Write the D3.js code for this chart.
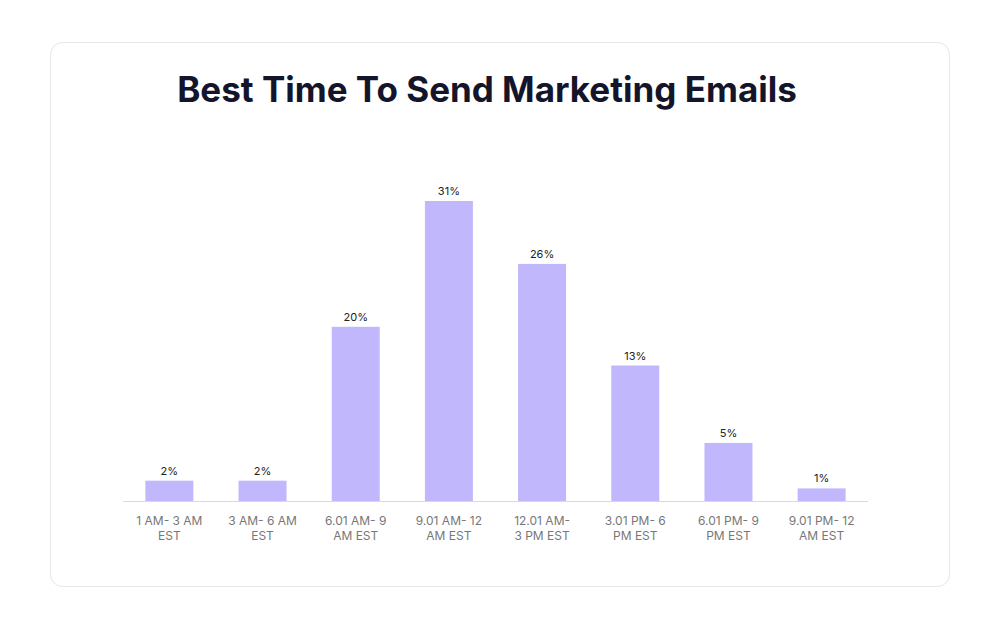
<!DOCTYPE html><html><head><meta charset="utf-8">
<script src="https://cdn.jsdelivr.net/npm/d3@7"></script>
<style>body{margin:0;background:#fff;font-family:Inter,sans-serif}</style></head><body>
<svg id="c" width="1000" height="630"></svg>
<script>
const categories=[["1 AM- 3 AM","EST"],["3 AM- 6 AM","EST"],["6.01 AM- 9","AM EST"],["9.01 AM- 12","AM EST"],["12.01 AM-","3 PM EST"],["3.01 PM- 6","PM EST"],["6.01 PM- 9","PM EST"],["9.01 PM- 12","AM EST"]];
const values=[2.1,2.1,18,31,24.5,14,6,1.3];
const valueLabels=["2%","2%","20%","31%","26%","13%","5%","1%"];
const svg=d3.select("#c");
svg.append("rect").attr("x",50.5).attr("y",42.5).attr("width",899).attr("height",544).attr("rx",12).attr("fill","#fff").attr("stroke","#e6e6ea");
svg.append("text").attr("x",487).attr("y",102).attr("text-anchor","middle").attr("font-size",35).attr("font-weight",700).attr("fill","#14152b").text("Best Time To Send Marketing Emails");
const x=d3.scaleBand().domain(d3.range(categories.length)).range([123,868]).paddingInner(0.485).paddingOuter(0.24);
const y=d3.scaleLinear().domain([0,31]).range([501,201]);
svg.append("line").attr("x1",123).attr("x2",868).attr("y1",501.5).attr("y2",501.5).attr("stroke","#d9d9e3");
const g=svg.selectAll("g.b").data(values).enter().append("g");
g.append("rect").attr("x",(d,i)=>x(i)).attr("width",x.bandwidth()).attr("y",d=>y(d)).attr("height",d=>501-y(d)).attr("fill","#c0b7fd");
g.append("text").attr("x",(d,i)=>x(i)+x.bandwidth()/2).attr("y",d=>y(d)-6).attr("text-anchor","middle").attr("font-size",11).attr("fill","#222").text((d,i)=>valueLabels[i]);
categories.forEach((c,i)=>{c.forEach((t,j)=>svg.append("text").attr("x",x(i)+x.bandwidth()/2).attr("y",525+j*15).attr("text-anchor","middle").attr("font-size",12).attr("fill","#777").text(t));});
</script></body></html>
